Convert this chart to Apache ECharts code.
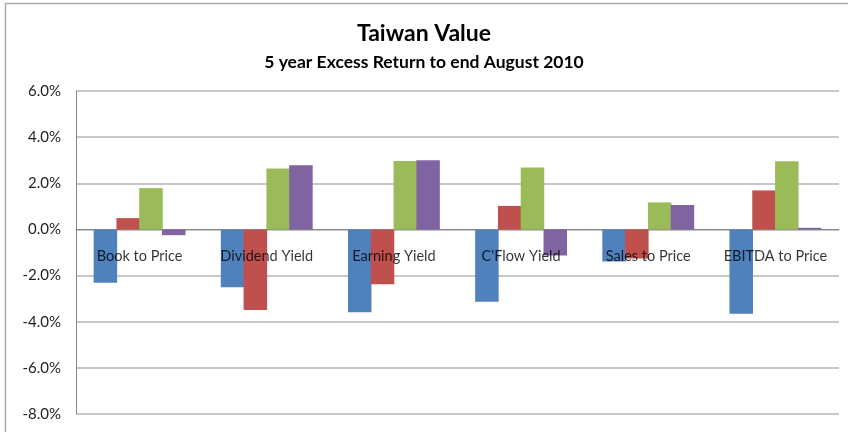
<!DOCTYPE html>
<html>
<head>
<meta charset="utf-8">
<script src="https://cdn.jsdelivr.net/npm/echarts@6/dist/echarts.min.js"></script>
<style>
  html, body { margin: 0; padding: 0; background: #fff; }
  #main { width: 848px; height: 432px; }
</style>
</head>
<body>
<div id="main"></div>
<script>
// data (percent)
var categories = ['Book to Price', 'Dividend Yield', 'Earning Yield', "C'Flow Yield", 'Sales to Price', 'EBITDA to Price'];
var seriesA = [-2.31, -2.51, -3.59, -3.13, -1.39, -3.65];
var seriesB = [0.49, -3.49, -2.38, 1.02, -1.26, 1.69];
var seriesC = [1.79, 2.64, 2.97, 2.68, 1.17, 2.96];
var seriesD = [-0.25, 2.78, 3.00, -1.13, 1.06, 0.07];
var yTicks = [-8, -6, -4, -2, 0, 2, 4, 6];

var font = 'Lato, "Open Sans", sans-serif';

function bar(name, data, color) {
    return {
        name: name,
        type: 'bar',
        data: data,
        barWidth: 23.5,
        barGap: '-3%',   // tiny overlap so neighbouring bars touch without seams
        itemStyle: { color: color, borderWidth: 0 }
    };
}

var option = {
    animation: false,
    textStyle: { fontFamily: font },
    title: {
        text: 'Taiwan Value',
        subtext: '5 year Excess Return to end August 2010',
        left: 'center',
        top: 17,
        itemGap: 8,
        textStyle: { fontSize: 23, fontWeight: 'bold', color: '#000', fontFamily: font },
        subtextStyle: { fontSize: 17.5, fontWeight: 'bold', color: '#000', fontFamily: font }
    },
    graphic: [{
        type: 'rect',
        shape: { x: 5.5, y: 3.5, width: 900, height: 500 },
        style: { fill: 'none', stroke: '#aaa', lineWidth: 1.5 },
        silent: true
    }],
    grid: { left: 76, right: 9, top: 91, bottom: 18, outerBoundsMode: 'none' },
    xAxis: {
        type: 'category',
        data: categories,
        axisLine: { onZero: true, lineStyle: { color: '#888', width: 1 } },
        axisTick: { show: false },
        axisLabel: { show: false }
    },
    yAxis: {
        type: 'value',
        min: yTicks[0],
        max: yTicks[yTicks.length - 1],
        interval: 2,
        axisLine: { show: true, lineStyle: { color: '#888' } },
        axisTick: { show: false },
        axisLabel: {
            color: '#222', fontSize: 15, margin: 15, fontFamily: font,
            formatter: function (v) { return v.toFixed(1) + '%'; }
        },
        splitLine: { lineStyle: { color: '#b4b4b4', width: 1.5 } }
    },
    series: [
        bar('S1', seriesA, '#4F81BD'),
        bar('S2', seriesB, '#C0504D'),
        bar('S3', seriesC, '#9BBB59'),
        bar('S4', seriesD, '#8064A2'),
        {
            // category names sit just under the zero line, as in the original
            type: 'scatter',
            data: categories.map(function (c) { return [c, 0]; }),
            symbolSize: 0,
            silent: true,
            z: 5,
            label: {
                show: true,
                position: 'bottom',
                distance: 19,
                color: '#000',
                fontSize: 14.5,
                fontFamily: font,
                formatter: function (p) { return p.value[0]; }
            }
        }
    ]
};

var myChart = echarts.init(document.getElementById('main'));
myChart.setOption(option);
</script>
</body>
</html>
